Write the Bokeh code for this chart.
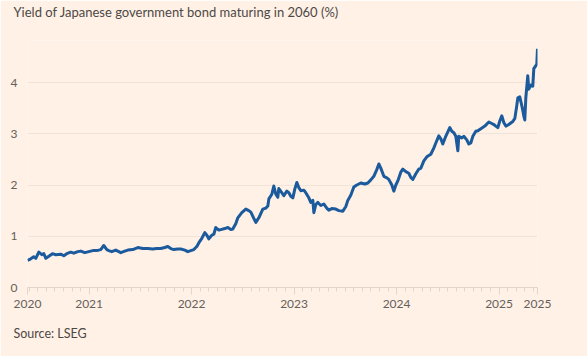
from bokeh.plotting import figure
from bokeh.models import FixedTicker, CustomJSTickFormatter, Title, ColumnDataSource
from bokeh.embed import file_html
from bokeh.resources import INLINE

# ---- data ----
years = [2020.399, 2020.431, 2020.460, 2020.480, 2020.509, 2020.539, 2020.558, 2020.578, 2020.607, 2020.643,
         2020.675, 2020.724, 2020.753, 2020.782, 2020.821, 2020.851, 2020.890, 2020.919, 2020.958, 2020.997,
         2021.036, 2021.075, 2021.114, 2021.143, 2021.173, 2021.192, 2021.221, 2021.260, 2021.290, 2021.309,
         2021.348, 2021.378, 2021.426, 2021.475, 2021.524, 2021.573, 2021.621, 2021.660, 2021.699, 2021.738,
         2021.768, 2021.797, 2021.826, 2021.865, 2021.895, 2021.934, 2021.963, 2021.992, 2022.022, 2022.051,
         2022.070, 2022.100, 2022.129, 2022.149, 2022.168, 2022.197, 2022.217, 2022.236, 2022.266, 2022.285,
         2022.324, 2022.354, 2022.383, 2022.402, 2022.432, 2022.451, 2022.490, 2022.529, 2022.558, 2022.578,
         2022.607, 2022.627, 2022.656, 2022.695, 2022.724, 2022.744, 2022.754, 2022.783, 2022.802, 2022.822,
         2022.841, 2022.851, 2022.880, 2022.900, 2022.929, 2022.949, 2022.968, 2022.988, 2023.007, 2023.027,
         2023.046, 2023.066, 2023.095, 2023.114, 2023.144, 2023.163, 2023.183, 2023.193, 2023.212, 2023.232,
         2023.261, 2023.290, 2023.319, 2023.339, 2023.368, 2023.407, 2023.437, 2023.476, 2023.505, 2023.524,
         2023.553, 2023.583, 2023.612, 2023.651, 2023.690, 2023.720, 2023.749, 2023.778, 2023.807, 2023.827,
         2023.846, 2023.876, 2023.905, 2023.924, 2023.954, 2023.973, 2023.993, 2024.012, 2024.041, 2024.061,
         2024.090, 2024.119, 2024.139, 2024.159, 2024.188, 2024.217, 2024.237, 2024.266, 2024.295, 2024.334,
         2024.363, 2024.383, 2024.412, 2024.432, 2024.451, 2024.480, 2024.519, 2024.539, 2024.559, 2024.578,
         2024.598, 2024.607, 2024.637, 2024.656, 2024.685, 2024.705, 2024.724, 2024.744, 2024.773, 2024.793,
         2024.822, 2024.861, 2024.900, 2024.929, 2024.949, 2024.968, 2024.988, 2025.007, 2025.027, 2025.046,
         2025.066, 2025.095, 2025.114, 2025.134, 2025.154, 2025.173, 2025.183, 2025.202, 2025.222, 2025.232,
         2025.241, 2025.251, 2025.261, 2025.280, 2025.290, 2025.310, 2025.329, 2025.339, 2025.359, 2025.368,
         2025.375]
yields = [0.53, 0.56, 0.60, 0.57, 0.69, 0.64, 0.66, 0.57, 0.61, 0.66,
          0.64, 0.65, 0.62, 0.66, 0.69, 0.67, 0.70, 0.71, 0.68, 0.70,
          0.72, 0.72, 0.74, 0.82, 0.74, 0.72, 0.70, 0.73, 0.70, 0.68,
          0.71, 0.73, 0.74, 0.78, 0.76, 0.76, 0.75, 0.76, 0.76, 0.78,
          0.80, 0.76, 0.74, 0.75, 0.75, 0.73, 0.70, 0.72, 0.74, 0.80,
          0.87, 0.96, 1.07, 1.02, 0.95, 1.02, 1.04, 1.17, 1.12, 1.13,
          1.15, 1.17, 1.13, 1.14, 1.25, 1.36, 1.46, 1.53, 1.50, 1.47,
          1.35, 1.27, 1.36, 1.53, 1.55, 1.59, 1.73, 1.82, 1.98, 1.82,
          1.76, 1.93, 1.85, 1.79, 1.88, 1.85, 1.78, 1.75, 1.92, 2.05,
          1.95, 1.89, 1.90, 1.85, 1.75, 1.66, 1.70, 1.46, 1.62, 1.66,
          1.60, 1.63, 1.55, 1.51, 1.54, 1.53, 1.50, 1.49, 1.58, 1.70,
          1.80, 1.96, 2.00, 2.04, 2.02, 2.04, 2.10, 2.17, 2.30, 2.41,
          2.33, 2.17, 2.14, 2.11, 2.00, 1.88, 2.00, 2.08, 2.25, 2.31,
          2.26, 2.23, 2.15, 2.11, 2.22, 2.31, 2.33, 2.47, 2.55, 2.60,
          2.72, 2.82, 2.96, 2.90, 2.80, 2.95, 3.12, 3.05, 3.02, 2.95,
          2.67, 2.95, 2.92, 2.95, 2.88, 2.80, 2.82, 2.95, 3.05, 3.06,
          3.10, 3.15, 3.23, 3.20, 3.18, 3.15, 3.12, 3.25, 3.35, 3.22,
          3.15, 3.18, 3.21, 3.24, 3.30, 3.55, 3.70, 3.72, 3.55, 3.45,
          3.35, 3.27, 3.70, 4.13, 3.87, 3.95, 3.93, 4.27, 4.33, 4.36,
          4.66]
y_ticks = [0, 1, 2, 3, 4]
year_ticks = [2021, 2022, 2023, 2024, 2025]
title_text = "Yield of Japanese government bond maturing in 2060 (%)"
source_text = "Source: LSEG"

BG = "#FFF1E5"
TEXT = "#66605C"
TICK = "#E3D5C9"
FONT = "Lato"

start, end = years[0], years[-1]
major = [start] + year_ticks + [end]
minor = [y + m / 12 for y in range(2020, 2026) for m in range(12) if start < y + m / 12 < end]

p = figure(width=587, height=356, x_range=(start, end), y_range=(0, 4.82),
           title=title_text,
           output_backend="svg", toolbar_location=None,
           min_border_left=27, min_border_right=50, min_border_top=40, min_border_bottom=69,
           background_fill_color=BG, border_fill_color=BG, outline_line_color=None)

p.title.align = "left"
p.title.offset = -14
p.title.standoff = 0
p.title.vertical_align = "bottom"
p.title.text_font = FONT
p.title.text_font_size = "13px"
p.title.text_color = "#4D4845"
p.title.text_font_style = "normal"

# an empty title used only as a spacer between the frame and the real title
p.add_layout(Title(text=" ", text_font_size="1px", standoff=18), "above")

src = ColumnDataSource(dict(x=years, y=yields))
p.line("x", "y", source=src, line_color="#1B5A9C", line_width=3, line_join="round")

# y axis
p.yaxis.ticker = FixedTicker(ticks=y_ticks)
p.yaxis.axis_line_color = None
p.yaxis.major_tick_line_color = None
p.yaxis.minor_tick_line_color = None
p.yaxis.major_label_standoff = 4
p.yaxis.major_label_text_color = TEXT
p.yaxis.major_label_text_font = FONT
p.yaxis.major_label_text_font_size = "12px"

# x axis
p.xaxis.ticker = FixedTicker(ticks=major, minor_ticks=minor)
p.xaxis.formatter = CustomJSTickFormatter(code="return Math.floor(tick + 1e-6).toString();")
p.xaxis.axis_line_color = TICK
p.xaxis.major_tick_line_color = TICK
p.xaxis.minor_tick_line_color = TICK
p.xaxis.major_tick_in = 0
p.xaxis.major_tick_out = 7
p.xaxis.minor_tick_in = 0
p.xaxis.minor_tick_out = 4
p.xaxis.major_label_standoff = 5
p.xaxis.major_label_text_color = TEXT
p.xaxis.major_label_text_font = FONT
p.xaxis.major_label_text_font_size = "12px"

p.xgrid.visible = False
p.ygrid.grid_line_color = "#F1E3D7"
p.ygrid.grid_line_width = 1

p.add_layout(Title(text=source_text, align="left", offset=-14, standoff=26,
                   text_font=FONT, text_font_size="12.5px", text_color="#4D4845",
                   text_font_style="normal"), "below")

open("out.html", "w").write(file_html(p, INLINE))
